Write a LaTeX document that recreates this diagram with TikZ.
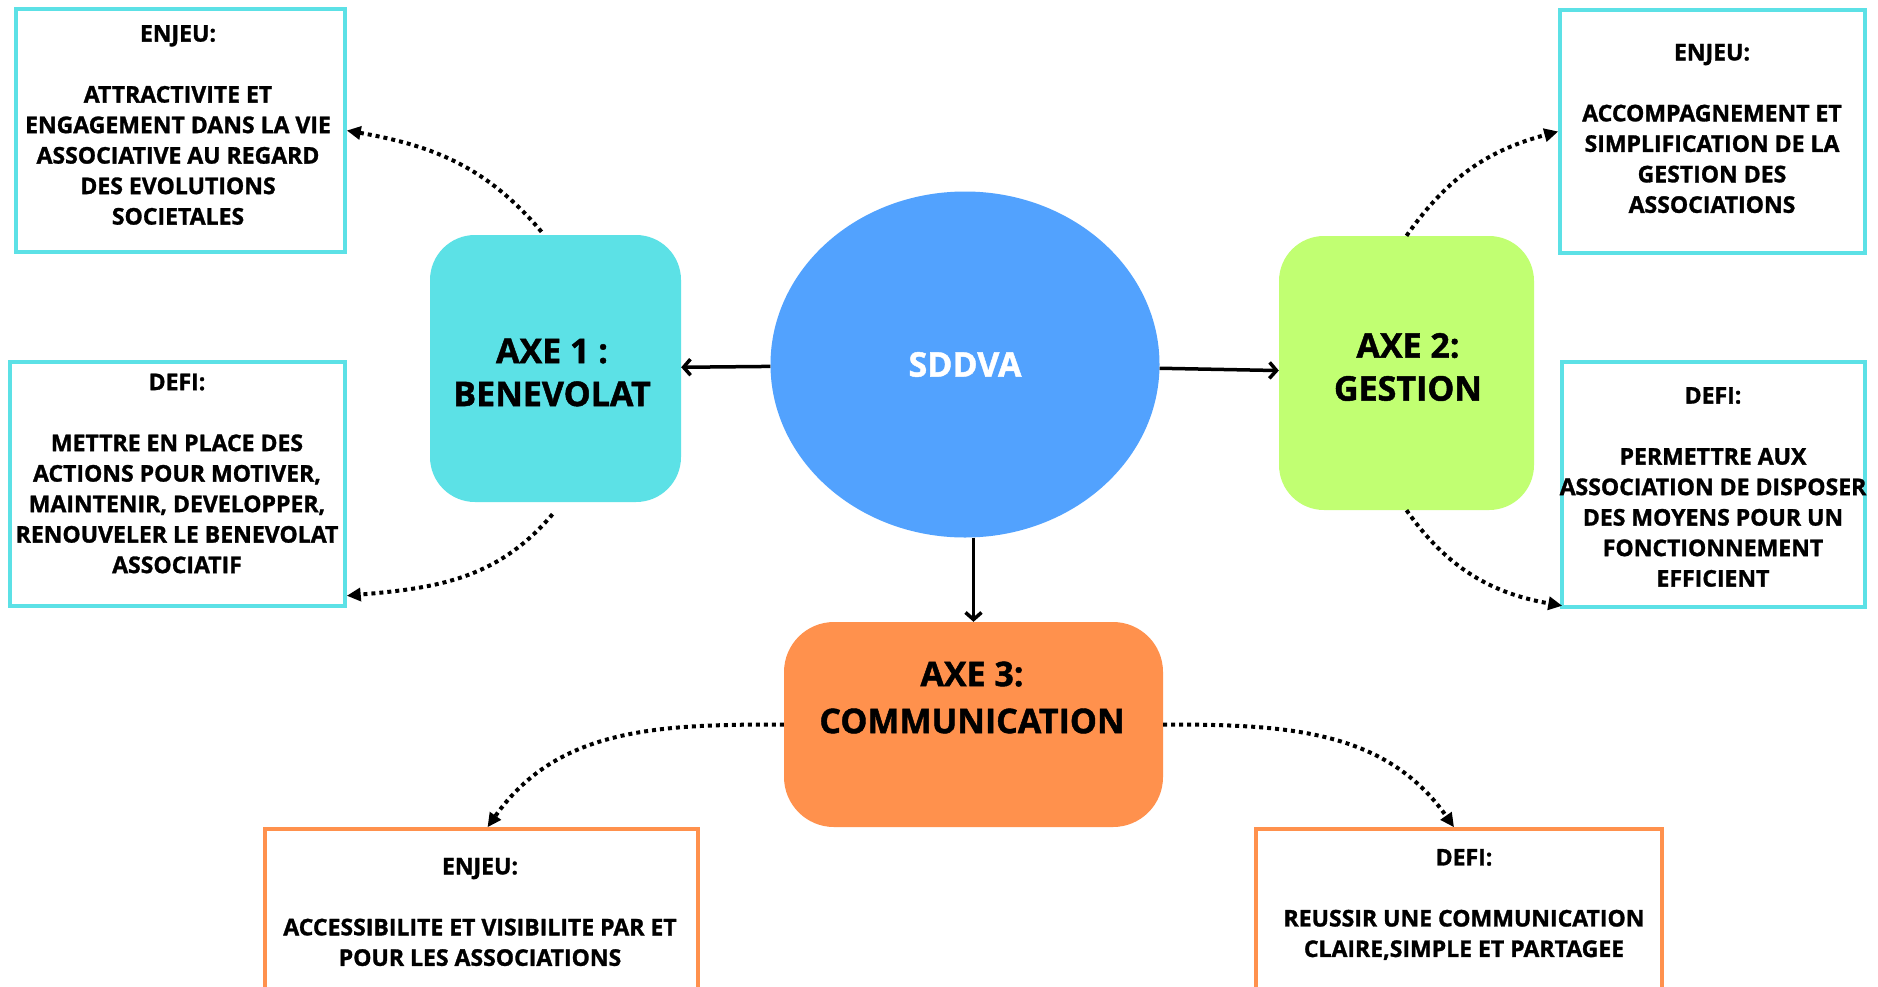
\documentclass[tikz,border=0pt]{standalone}
\usepackage{fontspec}
\setmainfont{Open Sans}[BoldFeatures={FakeBold=1.3}]
\usetikzlibrary{arrows.meta,shapes.geometric,calc}
\definecolor{cy}{HTML}{5CE1E6}
\definecolor{gr}{HTML}{C1FF72}
\definecolor{orng}{HTML}{FF914D}
\definecolor{bl}{HTML}{52A2FE}
\begin{document}
\begin{tikzpicture}[x=1pt,y=1pt,
  axebox/.style={draw=none, rounded corners=45pt, inner sep=0pt},
  infobox/.style={draw=#1, line width=3.5pt, fill=white, inner sep=0pt},
  body/.style={align=center, font=\bfseries\fontsize{23}{30.5}\selectfont},
  big/.style={align=center, font=\bfseries\fontsize{34}{43}\selectfont},
  solidarrow/.style={line width=3.5pt, -{Straight Barb[length=7pt,width=16pt]}},
  dotarrow/.style={line width=4pt, dash pattern=on 4pt off 4pt, -{Triangle[length=14pt,width=13pt]}},
]
\clip (0,0) rectangle (1878,-986);
\fill[white] (0,0) rectangle (1878,-986);

% centre
\node[ellipse, fill=bl, minimum width=389pt, minimum height=346pt, inner sep=0pt, text=white, big] (sddva) at (965,-364.5) {SDDVA};

% axes
\node[axebox, fill=cy, minimum width=251pt, minimum height=267pt] (axe1) at (555.5,-368.5) {};
\node[big] (axe1txt) at (552,-372.5) {AXE 1 :\\BENEVOLAT};
\node[axebox, fill=gr, minimum width=255pt, minimum height=274pt] (axe2) at (1406.5,-373) {};
\node[big] (axe2txt) at (1408,-367) {AXE 2:\\GESTION};
\node[axebox, fill=orng, minimum width=379pt, minimum height=205pt, rounded corners=50pt] (axe3) at (973.5,-724.5) {};
\node[big, font=\bfseries\fontsize{34}{47}\selectfont] (axe3txt) at (972,-697.5) {AXE 3:\\COMMUNICATION};

% info boxes
\node[infobox=cy, minimum width=329pt, minimum height=243pt] (enjeu1) at (180.5,-130.5) {};
\node[body] (enjeu1txt) at (178,-125) {ENJEU:\\[30.5pt]ATTRACTIVITE ET\\ENGAGEMENT DANS LA VIE\\ASSOCIATIVE AU REGARD\\DES EVOLUTIONS\\SOCIETALES};
\node[infobox=cy, minimum width=335pt, minimum height=244pt] (defi1) at (177.5,-484) {};
\node[body] (defi1txt) at (177,-473.5) {DEFI:\\[30.5pt]METTRE EN PLACE DES\\ACTIONS POUR MOTIVER,\\MAINTENIR, DEVELOPPER,\\RENOUVELER LE BENEVOLAT\\ASSOCIATIF};
\node[infobox=cy, minimum width=305pt, minimum height=243pt] (enjeu2) at (1712.5,-131.5) {};
\node[body] (enjeu2txt) at (1712,-128.5) {ENJEU:\\[30.5pt]ACCOMPAGNEMENT ET\\SIMPLIFICATION DE LA\\GESTION DES\\ASSOCIATIONS};
\node[infobox=cy, minimum width=303pt, minimum height=245pt] (defi2) at (1713.5,-484.5) {};
\node[body] (defi2txt) at (1713,-487) {DEFI:\\[30.5pt]PERMETTRE AUX\\ASSOCIATION DE DISPOSER\\DES MOYENS POUR UN\\FONCTIONNEMENT\\EFFICIENT};
\node[infobox=orng, minimum width=433pt, minimum height=221pt] (enjeu3) at (481.5,-939.5) {};
\node[body] (enjeu3txt) at (480,-912) {ENJEU:\\[30.5pt]ACCESSIBILITE ET VISIBILITE PAR ET\\POUR LES ASSOCIATIONS};
\node[infobox=orng, minimum width=406pt, minimum height=221pt] (defi3) at (1459,-939.5) {};
\node[body] (defi3txt) at (1464,-904.5) {DEFI:\\[30.5pt]REUSSIR UNE COMMUNICATION\\CLAIRE,SIMPLE ET PARTAGEE};

% solid arrows
\draw[solidarrow] (sddva) -- (axe1);
\draw[solidarrow] (sddva) -- (axe2);
\draw[solidarrow] (sddva.south -| axe3.north) -- (axe3.north);

% dotted arrows
\draw[dotarrow] ($(axe1.north)+(-14,3)$) to[out=130,in=-10] (enjeu1.east);
\draw[dotarrow] ($(axe1.south)+(-3,-12)$) to[out=230,in=5] ($(defi1.south east)+(0,12)$);
\draw[dotarrow] (axe2.north) to[out=55,in=195] (enjeu2.west);
\draw[dotarrow] (axe2.south) to[out=-55,in=170] ($(defi2.south west)+(2,3)$);
\draw[dotarrow] (axe3.west) to[out=180,in=55] ($(enjeu3.north)+(6,0)$);
\draw[dotarrow] (axe3.east) to[out=0,in=125] ($(defi3.north)+(-5,0)$);
\end{tikzpicture}
\end{document}
